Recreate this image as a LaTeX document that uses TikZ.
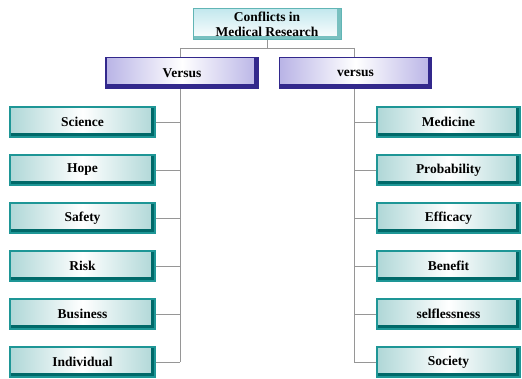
\documentclass[tikz,border=0pt]{standalone}
\usepackage{fontspec}
\setmainfont{Liberation Serif}
\usetikzlibrary{positioning}
\definecolor{tealdark}{RGB}{0,105,105}
\definecolor{tealmid}{RGB}{30,150,150}
\definecolor{tealfill}{RGB}{175,215,215}
\definecolor{indframe}{RGB}{50,40,140}
\definecolor{lavfill}{RGB}{185,180,230}
\definecolor{cyanfill}{RGB}{195,232,238}
\definecolor{linkgray}{RGB}{150,150,150}
\tikzset{
	bevel/.style={path picture={\draw[line width=4pt,#1] ([yshift=2pt]path picture bounding box.south west)--([xshift=-2pt,yshift=2pt]path picture bounding box.south east)--([xshift=-2pt]path picture bounding box.north east);}},
	labelfont/.style={font=\bfseries\fontsize{13.5}{15}\selectfont},
	tealbox/.style={labelfont,minimum width=145pt,minimum height=30pt,inner sep=0pt,draw=tealmid,line width=1.2pt,left color=tealfill,right color=tealfill,middle color=white,bevel=tealdark},
	versbox/.style={labelfont,minimum width=152pt,minimum height=31pt,inner sep=0pt,draw=indframe,line width=1.2pt,left color=lavfill,right color=lavfill,middle color=white,bevel=indframe},
	topbox/.style={labelfont,minimum width=148pt,minimum height=31pt,inner sep=0pt,align=center,draw=tealmid!70,line width=1pt,top color=cyanfill,bottom color=white,bevel=tealmid!60},
	link/.style={draw=linkgray,line width=0.8pt}
}
\begin{document}
\begin{tikzpicture}[x=1pt,y=-1pt]
	\useasboundingbox (0,0) rectangle (522,379);
	\node[topbox] (top) at (267,24.5) {Conflicts in\\Medical Research};
	% trunk lines
	\coordinate (hl) at (180,48);
	\coordinate (hr) at (354,48);
	\coordinate (bl) at (180,362);
	\coordinate (br) at (354,362);
	\draw[link] (top.south)--(top.south |- hl);
	\draw[link] (hl)--(hr);
	\draw[link] (hl)--(bl);
	\draw[link] (hr)--(br);
	\node[versbox] (vl) at (182,73) {Versus};
	\node[versbox] (vr) at (355.5,73) {versus};
	% the pairs
	\foreach \a/\b [count=\i] in {Science/Medicine,Hope/Probability,Safety/Efficacy,Risk/Benefit,Business/selflessness,Individual/Society}{
		\node[tealbox] (l\i) at (82.5,{122+48*(\i-1)}) {\a};
		\node[tealbox,minimum width=143pt] (r\i) at (448.5,{122+48*(\i-1)}) {\b};
		\draw[link] (l\i.east)--(l\i.east -| bl);
		\draw[link] (r\i.west)--(r\i.west -| br);
	}
\end{tikzpicture}
\end{document}
